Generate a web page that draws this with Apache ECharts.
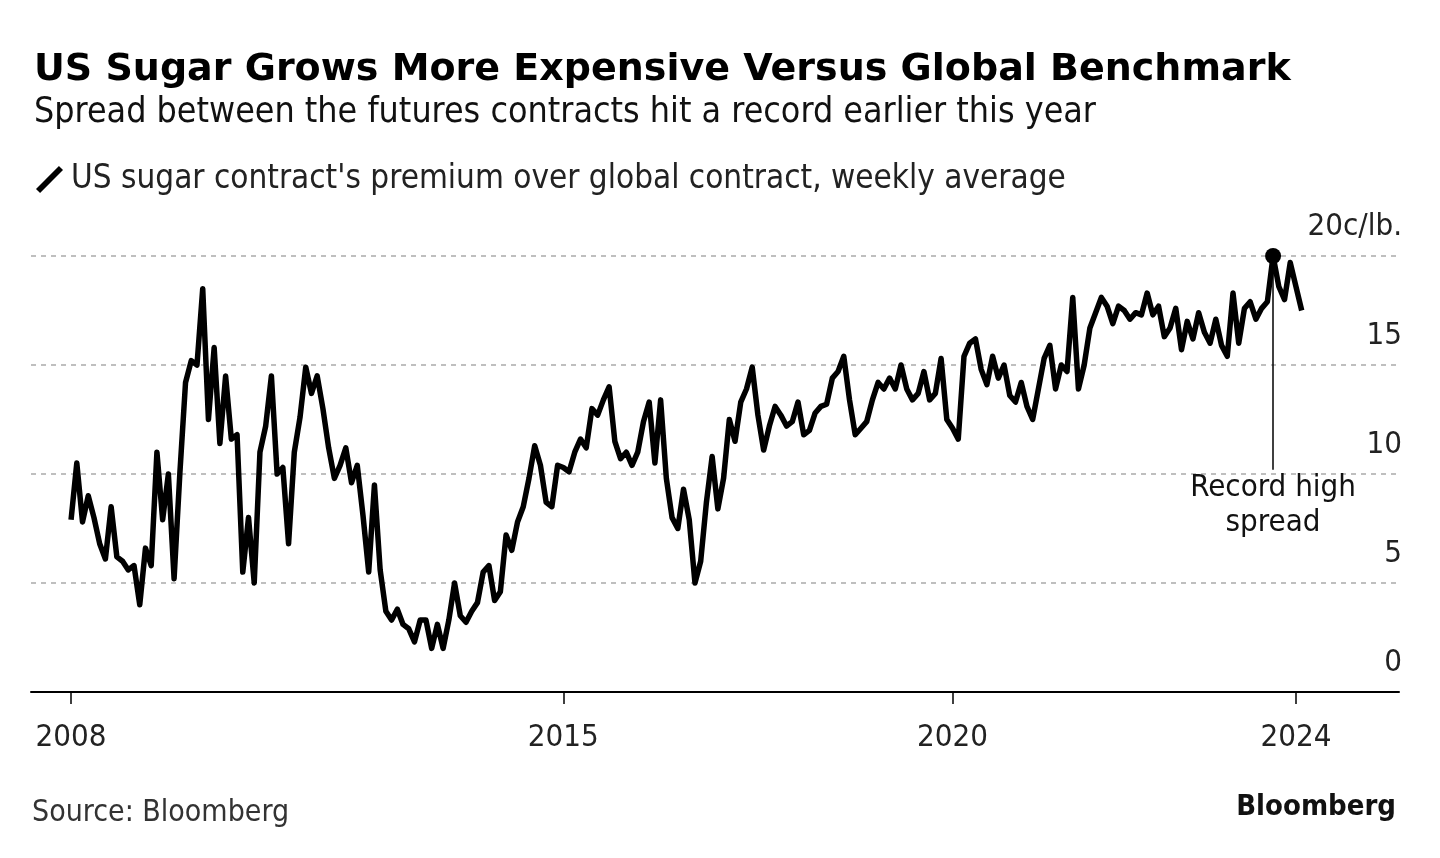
<!DOCTYPE html>
<html>
<head>
<meta charset="utf-8">
<title>US Sugar Grows More Expensive Versus Global Benchmark</title>
<script src="https://cdn.jsdelivr.net/npm/echarts@6/dist/echarts.min.js"></script>
<style>
  html, body { margin: 0; padding: 0; background: #fff; }
  #chart { width: 1440px; height: 858px; }
</style>
</head>
<body>
<div id="chart"></div>
<script>
// weekly samples laid out on an evenly spaced axis (index 0..239)
const sampleCount = 240
const firstSample = 7

// US minus global sugar futures, c/lb.
const spread2008 = [7.9, 10.5, 7.8, 9.0, 8.0, 6.8, 6.1, 8.5, 6.2, 6.0, 5.6, 5.8, 4.0, 6.6, 5.8,
  11.0, 7.9, 10.0, 5.2, 10.0, 14.2, 15.2, 15.0, 18.5, 12.5, 15.8, 11.4, 14.5, 11.6, 11.8,
  5.5, 8.0, 5.0, 11.0, 12.2, 14.5, 10.0, 10.3, 6.8, 11.0, 12.6, 14.9, 13.7]
const spread2011 = [14.5, 13.0, 11.2, 9.8, 10.4, 11.2, 9.6, 10.4, 8.1, 5.5, 9.5, 5.6, 3.7, 3.3,
  3.8, 3.1, 2.9, 2.3, 3.3, 3.3, 2.0, 3.1, 2.0, 3.3, 5.0, 3.5, 3.2, 3.7, 4.1, 5.5, 5.8, 4.2,
  4.6, 7.2, 6.5, 7.8, 8.5, 9.8, 11.3, 10.4, 8.7, 8.5, 10.4, 10.3]
const spread2015 = [10.1, 11.0, 11.6, 11.2, 13.0, 12.7, 13.4, 14.0, 11.5, 10.7, 11.0, 10.4, 11.0,
  12.4, 13.3, 10.5, 13.4, 9.8, 8.0, 7.5, 9.3, 7.9, 5.0, 6.0, 8.7, 10.8, 8.4, 9.8, 12.5, 11.5,
  13.3, 13.9, 14.9, 12.7, 11.1, 12.2, 13.1, 12.7, 12.2, 12.4, 13.3, 11.8, 12.0]
const spread2018 = [12.8, 13.1, 13.2, 14.4, 14.7, 15.4, 13.4, 11.8, 12.1, 12.4, 13.4, 14.2, 13.9,
  14.4, 13.9, 15.0, 13.9, 13.4, 13.7, 14.7, 13.4, 13.7, 15.3, 12.5, 12.1, 11.6, 15.4, 16.0,
  16.2, 14.8, 14.1, 15.4, 14.4, 15.0, 13.6, 13.3, 14.2, 13.1, 12.5, 13.9, 15.3, 15.9, 13.9, 15.0]
const spread2021 = [14.7, 18.1, 13.9, 15.0, 16.7, 17.4, 18.1, 17.7, 16.9, 17.7, 17.5, 17.1, 17.4,
  17.3, 18.3, 17.3, 17.7, 16.3, 16.7, 17.6, 15.7, 17.0, 16.2, 17.4, 16.5, 16.0, 17.1, 15.9,
  15.4, 18.3, 16.0, 17.6, 17.9, 17.1, 17.6, 17.9, 20.0, 18.6, 18.0, 19.7, 18.6, 17.5]

const yearTickIndex = [7, 93, 161, 221]
const yearTickLabels = ['2008', '2015', '2020', '2024']

const seriesName = "US sugar contract's premium over global contract, weekly average"
const fontFamily = "'DejaVu Sans Condensed', 'DejaVu Sans', sans-serif"
const titleFont = "'DejaVu Sans', sans-serif"

const spread = [].concat(spread2008, spread2011, spread2015, spread2018, spread2021)
const weeks = Array.from({ length: sampleCount }, (_, i) => String(i))
const lineData = weeks.map((w, i) => {
  const k = i - firstSample
  return k >= 0 && k < spread.length ? spread[k] : '-'
})

// record high = largest value in the series
let recordK = 0
spread.forEach((v, k) => { if (v > spread[recordK]) recordK = k })
const recordWeek = weeks[recordK + firstSample]
const recordValue = spread[recordK]

const isYearTick = (idx) => yearTickIndex.indexOf(idx) !== -1

const myChart = echarts.init(document.getElementById('chart'))
const options = {
  backgroundColor: '#fff',
  animation: false,
  textStyle: { fontFamily: fontFamily },
  title: {
    text: 'US Sugar Grows More Expensive Versus Global Benchmark',
    subtext: 'Spread between the futures contracts hit a record earlier this year',
    left: 29,
    top: 46,
    itemGap: 6,
    textStyle: { fontFamily: titleFont, fontSize: 38, fontWeight: 'bold', color: '#000' },
    subtextStyle: { fontFamily: fontFamily, fontSize: 35.5, color: '#111' }
  },
  legend: {
    left: 31,
    top: 158,
    itemWidth: 27,
    itemHeight: 27,
    itemGap: 12,
    selectedMode: false,
    icon: 'path://M0,22.5 L4,26.5 L26.5,4 L22.5,0 Z',
    textStyle: { fontFamily: fontFamily, fontSize: 33, color: '#222', padding: [0, 0, 0, 3] },
    data: [{ name: seriesName, itemStyle: { color: '#000' } }]
  },
  grid: {
    left: 31,
    right: 41,
    top: 256,
    bottom: 166
  },
  xAxis: {
    type: 'category',
    boundaryGap: false,
    data: weeks,
    axisLine: { lineStyle: { color: '#000', width: 2 } },
    axisTick: {
      interval: (idx) => isYearTick(idx),
      length: 12,
      lineStyle: { color: '#000', width: 1.5 }
    },
    axisLabel: {
      interval: (idx) => isYearTick(idx),
      formatter: (val, idx) => yearTickLabels[yearTickIndex.indexOf(idx)] || '',
      fontSize: 31,
      color: '#222',
      margin: 30
    },
    splitLine: { show: false }
  },
  yAxis: {
    type: 'value',
    position: 'right',
    min: 0,
    max: 20,
    interval: 5,
    axisLine: { show: false },
    axisTick: { show: false },
    axisLabel: {
      fontSize: 31,
      color: '#222',
      align: 'right',
      verticalAlign: 'bottom',
      margin: 3,
      padding: [0, 0, 14, 0],
      formatter: (v) => (v === 20 ? '20c/lb.' : String(v))
    },
    splitLine: {
      lineStyle: { color: '#aaa', width: 1.5, type: [5, 5] }
    }
  },
  series: [{
    name: seriesName,
    type: 'line',
    data: lineData,
    symbol: 'none',
    clip: false,
    lineStyle: { color: '#000', width: 5.5, join: 'round' },
    itemStyle: { color: '#000' },
    markPoint: {
      silent: true,
      symbol: 'circle',
      symbolSize: 16,
      itemStyle: { color: '#000' },
      label: { show: false },
      data: [{ coord: [recordWeek, recordValue] }]
    },
    markLine: {
      silent: true,
      symbol: ['none', 'none'],
      lineStyle: { color: '#000', width: 1.5, type: 'solid' },
      label: {
        show: true,
        position: 'end',
        distance: 1,
        formatter: 'Record high\nspread',
        fontFamily: fontFamily,
        fontSize: 31,
        lineHeight: 35,
        color: '#111'
      },
      data: [[{ coord: [recordWeek, recordValue] }, { coord: [recordWeek, 10.2] }]]
    }
  }],
  graphic: [
    {
      type: 'text',
      left: 32,
      top: 798,
      style: { text: 'Source: Bloomberg', fontFamily: fontFamily, fontSize: 30, fill: '#333' }
    },
    {
      type: 'text',
      right: 44,
      top: 793,
      style: { text: 'Bloomberg', fontFamily: fontFamily, fontSize: 29, fontWeight: 'bold', fill: '#111' }
    }
  ]
}
options && myChart.setOption(options)
</script>
</body>
</html>
